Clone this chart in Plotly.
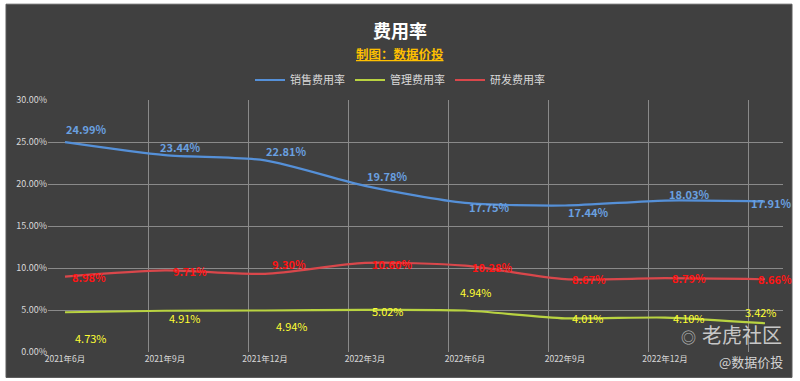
import plotly.graph_objects as go

# ---- data ----
categories = ["2021年6月", "2021年9月", "2021年12月", "2022年3月",
              "2022年6月", "2022年9月", "2022年12月", "2023年3月"]
sales_rate = [24.99, 23.44, 22.81, 19.78, 17.75, 17.44, 18.03, 17.91]
admin_rate = [4.73, 4.91, 4.94, 5.02, 4.94, 4.01, 4.10, 3.42]
rd_rate = [8.98, 9.71, 9.30, 10.60, 10.28, 8.67, 8.79, 8.66]
series_names = ["销售费用率", "管理费用率", "研发费用率"]
y_ticks = [0, 5, 10, 15, 20, 25, 30]

# ---- style ----
W, H = 800, 381
PL, PR, PT, PB = 48, 783, 100, 352.5
FONT = "Noto Sans CJK SC, Noto Sans, sans-serif"
BG = "#404040"
GRID = "#8a8a8a"
line_colors = ["#5590d8", "#b9d341", "#d9474b"]
label_colors = ["#6aa0e0", "#ffff33", "#ff1414"]
label_bold = [True, False, True]
# per-point label offsets in pixels (dx right, dy down)
label_dx = [[21, 15, 21, 22, 24, 23, 24, 6],
            [26, 20, 27, 23, 11, 23, 24, -4],
            [24, 25, 24, 27, 27, 24, 24, 10]]
label_dy = [[-13, -8, -9, -10, 4, 6, -7, 1],
            [26, 7, 15, 1, -19, 0, 0, -11],
            [0, 1, -10, 1, 1, 0, 0, 0]]
x_left_pad = 0.17  # categories sit 17px right of the vertical gridlines
# the last category label is hidden under the watermark in the reference
shown_tick_text = categories[:-1] + [""]


def px_x(px):
    return (px - PL) / (PR - PL)


def px_y(py):
    return (PB - py) / (PB - PT)


xs = list(range(len(categories)))
all_series = [sales_rate, admin_rate, rd_rate]

fig = go.Figure()
for name, vals, col in zip(series_names, all_series, line_colors):
    fig.add_trace(go.Scatter(
        x=xs, y=vals, name=name, mode="lines",
        line=dict(color=col, width=2.2, shape="spline", smoothing=0.7),
        hoverinfo="skip"))

annotations = []
for s, vals in enumerate(all_series):
    for i, v in enumerate(vals):
        txt = f"{v:.2f}%"
        if label_bold[s]:
            txt = f"<b>{txt}</b>"
        annotations.append(dict(
            x=xs[i], y=v, xref="x", yref="y", text=txt, showarrow=False,
            xanchor="center", yanchor="middle",
            xshift=label_dx[s][i], yshift=-label_dy[s][i],
            font=dict(family=FONT, size=11, color=label_colors[s])))

# titles
annotations.append(dict(
    x=px_x(400), y=px_y(30), xref="paper", yref="paper", showarrow=False,
    text="<b>费用率</b>", xanchor="center", yanchor="middle",
    font=dict(family=FONT, size=18, color="#ffffff")))
annotations.append(dict(
    x=px_x(400), y=px_y(53), xref="paper", yref="paper", showarrow=False,
    text="<b><u>制图：数据价投</u></b>", xanchor="center", yanchor="middle",
    font=dict(family=FONT, size=12.5, color="#ffc000")))
# watermarks
annotations.append(dict(
    x=px_x(784), y=px_y(335), xref="paper", yref="paper", showarrow=False,
    text="老虎社区", xanchor="right", yanchor="middle",
    font=dict(family=FONT, size=20, color="rgba(225,225,225,0.85)")))
annotations.append(dict(
    x=px_x(688), y=px_y(337), xref="paper", yref="paper", showarrow=False,
    text="◎", xanchor="center", yanchor="middle",
    font=dict(family=FONT, size=15, color="rgba(225,225,225,0.75)")))
annotations.append(dict(
    x=px_x(785), y=px_y(362), xref="paper", yref="paper", showarrow=False,
    text="@数据价投", xanchor="right", yanchor="middle",
    font=dict(family=FONT, size=13, color="rgba(230,230,230,0.9)")))

shapes = [dict(
    type="rect", xref="paper", yref="paper", layer="below",
    x0=px_x(6), x1=px_x(792), y0=px_y(378), y1=px_y(4),
    fillcolor=BG, line=dict(color="#5a5a5a", width=1))]

fig.update_layout(
    width=W, height=H,
    margin=dict(l=PL, r=W - PR, t=PT, b=H - PB, autoexpand=False),
    paper_bgcolor="#ffffff", plot_bgcolor="rgba(0,0,0,0)",
    font=dict(family=FONT, color="#d9d9d9"),
    showlegend=True,
    legend=dict(orientation="h", xref="container", yref="container",
                x=0.5, xanchor="center", y=1 - 80 / H, yanchor="middle",
                font=dict(family=FONT, size=11, color="#d9d9d9"),
                bgcolor="rgba(0,0,0,0)", itemwidth=30),
    annotations=annotations, shapes=shapes,
    xaxis=dict(range=[-x_left_pad, len(categories) - 1 + 0.18],
               tickmode="array",
               tickvals=[i - x_left_pad for i in xs],
               ticktext=shown_tick_text, ticklabelshift=17,
               showgrid=True, gridcolor=GRID, gridwidth=1,
               zeroline=False, showline=False, ticks="",
               tickfont=dict(family=FONT, size=8.5, color="#d9d9d9")),
    yaxis=dict(range=[0, 30], tickmode="array", tickvals=y_ticks,
               ticktext=[f"{t:.2f}%" for t in y_ticks],
               showgrid=True, gridcolor=GRID, gridwidth=1,
               zeroline=False, showline=False, ticks="",
               tickfont=dict(family=FONT, size=9, color="#d9d9d9")),
)

fig.write_html(
    "out.html",
    config={"displayModeBar": False},
    post_script="document.body.style.margin='0';"
                "document.body.style.overflow='hidden';")
